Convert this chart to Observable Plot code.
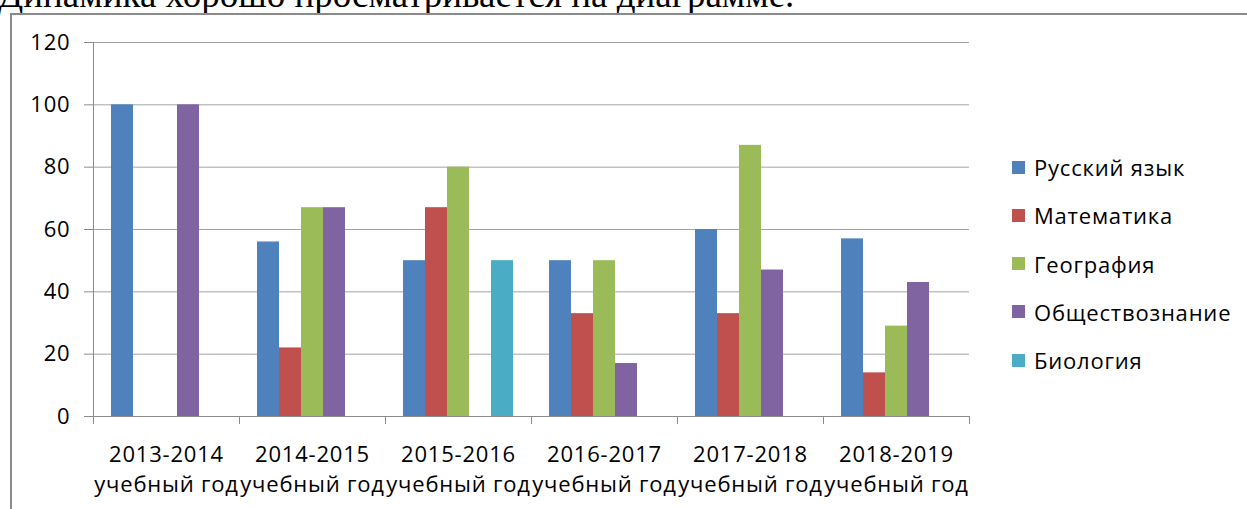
<!DOCTYPE html>
<html><head><meta charset="utf-8">
<script src="https://cdn.jsdelivr.net/npm/d3@7"></script>
<script src="https://cdn.jsdelivr.net/npm/@observablehq/plot@0.6"></script>
<style>
html,body{margin:0;padding:0;background:#fff;}
#wrap{position:relative;width:1247px;height:509px;overflow:hidden;background:#fff;}
#intro{position:absolute;left:-2px;top:-24.5px;font-family:"Liberation Serif","Times New Roman",serif;font-size:37px;line-height:37px;white-space:nowrap;color:#000;}
#border{position:absolute;left:10px;top:13px;right:-10px;bottom:-10px;border-left:2px solid #8a8a8a;border-top:2px solid #8a8a8a;}
#chart{position:absolute;left:0;top:0;}
#legend{position:absolute;left:1012px;top:143px;width:235px;}
#legend .lg-swatches{font-family:"Open Sans",sans-serif;font-size:22px;letter-spacing:0.8px;margin:0;color:#000;}
#legend .lg-swatch{height:48.25px;padding:0;display:flex;align-items:center;}
#legend .lg-swatch > svg{margin-right:9px;}
#legend .lg-swatch-label{overflow:visible;max-width:none;}
</style></head><body>
<div id="wrap">
  <div id="intro">Динамика хорошо просматривается на диаграмме.</div>
  <div id="border"></div>
  <div id="chart"></div>
  <div id="legend"></div>
</div>
<script>
const years = ["2013-2014","2014-2015","2015-2016","2016-2017","2017-2018","2018-2019"];
const yearSuffix = "учебный год";
const subjects = ["Русский язык","Математика","География","Обществознание","Биология"];
const colors = ["#4F81BD","#C0504D","#9BBB59","#8064A2","#4BACC6"];
const russian   = [100, 56, 50, 50, 60, 57];
const math      = [0,   22, 67, 33, 33, 14];
const geography = [0,   67, 80, 50, 87, 29];
const social    = [100, 67, 0,  17, 47, 43];
const biology   = [0,   0,  50, 0,  0,  0];
const yTicks = [0, 20, 40, 60, 80, 100, 120];

const seriesValues = [russian, math, geography, social, biology];
const data = [];
subjects.forEach((s, i) => years.forEach((y, j) => {
  const v = seriesValues[i][j];
  if (v > 0) data.push({year: y, subject: s, value: v});
}));

const gridColor = "#a3a3a3";
const axisColor = "#8c8c8c";
const W = 1247, H = 509, mL = 93, mR = 278, mT = 42, mB = 93;
const half = (W - mL - mR) / years.length / 2;

const chart = Plot.plot({
  width: W, height: H,
  marginLeft: mL, marginRight: mR, marginTop: mT, marginBottom: mB,
  style: {fontFamily: "Open Sans, sans-serif", fontSize: "22px", letterSpacing: "0.8px", background: "none", color: "#000"},
  fx: {domain: years, padding: 0, label: null},
  x: {domain: subjects, paddingInner: 0, paddingOuter: 0.77, axis: null},
  y: {domain: [0, 120], label: null},
  color: {domain: subjects, range: colors},
  marks: [
    Plot.gridY(yTicks, {stroke: gridColor, strokeOpacity: 1}),
    Plot.barY(data, {fx: "year", x: "subject", y: "value", fill: "subject"}),
    Plot.ruleY([0], {stroke: axisColor}),
    Plot.frame({anchor: "left", facetAnchor: "left", stroke: axisColor}),
    Plot.axisY(yTicks, {tickSize: 9, tickPadding: 14, stroke: axisColor, fill: "#000", label: null}),
    Plot.axisFx({anchor: "bottom", tickSize: 0, tickPadding: 24, lineHeight: 1.36, tickFormat: d => d + "\n" + yearSuffix, label: null, fill: "#000"}),
    Plot.axisFx({anchor: "bottom", tickSize: 8, fill: "none", dx: -half, stroke: axisColor, label: null}),
    Plot.axisFx([years[years.length - 1]], {anchor: "bottom", tickSize: 8, fill: "none", dx: half, stroke: axisColor, label: null})
  ]
});
document.getElementById("chart").appendChild(chart);

const legend = Plot.legend({
  color: {domain: subjects, range: colors},
  legend: "swatches", columns: 1, swatchSize: 13, className: "lg"
});
document.getElementById("legend").appendChild(legend);
</script>
</body></html>
